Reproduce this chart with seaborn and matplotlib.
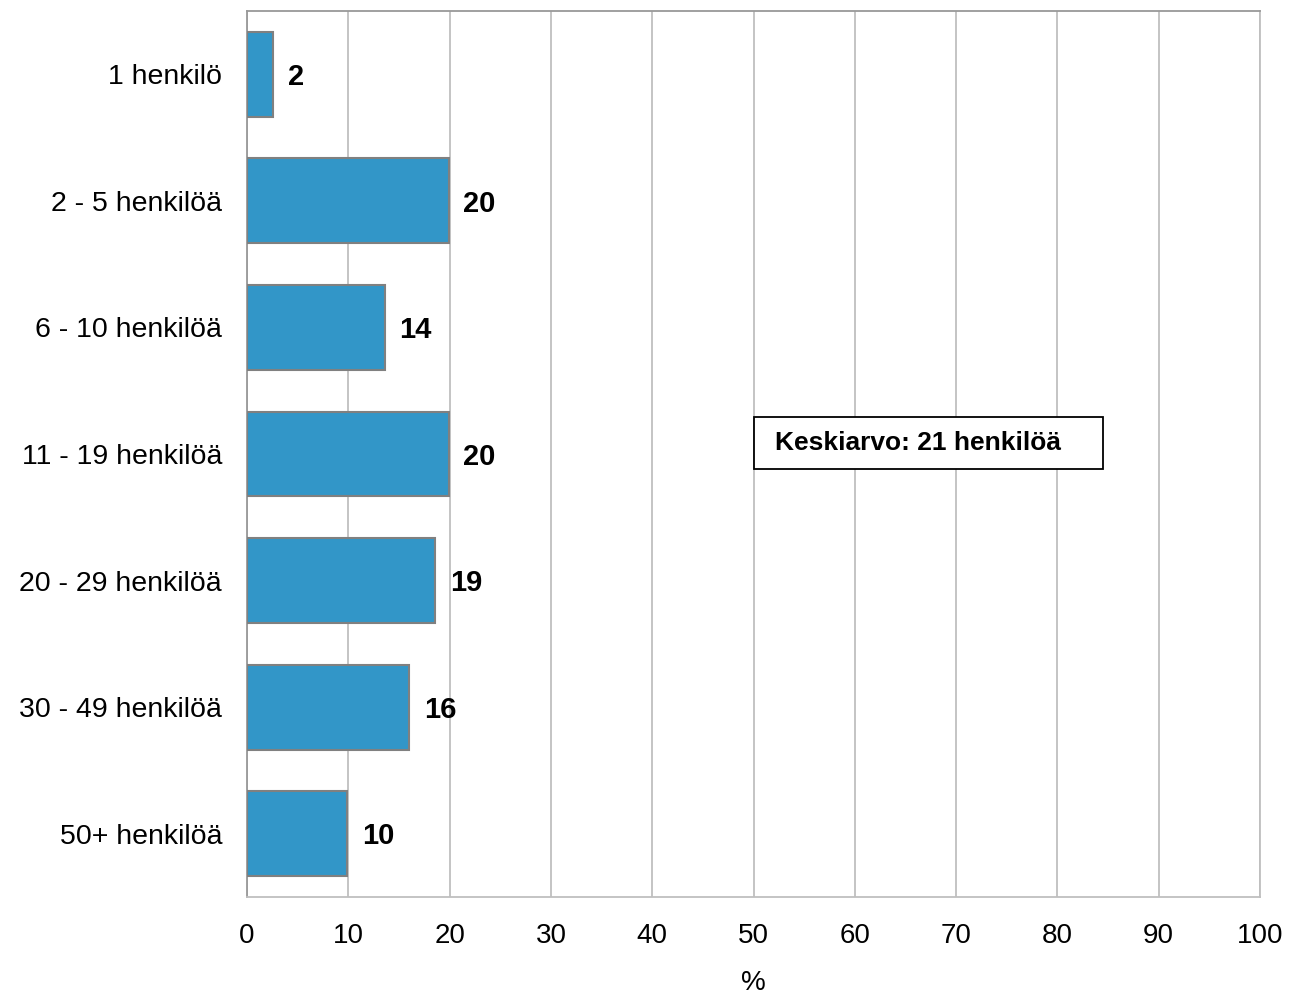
import matplotlib
matplotlib.use("Agg")
import matplotlib.pyplot as plt
import seaborn as sns
import pandas as pd
from matplotlib.patches import Rectangle

categories = ["1 henkilö", "2 - 5 henkilöä", "6 - 10 henkilöä", "11 - 19 henkilöä",
              "20 - 29 henkilöä", "30 - 49 henkilöä", "50+ henkilöä"]
values = [2.6, 19.9, 13.6, 19.9, 18.6, 16.0, 9.9]
labels = ["2", "20", "14", "20", "19", "16", "10"]
xticks = [0, 10, 20, 30, 40, 50, 60, 70, 80, 90, 100]
note = "Keskiarvo: 21 henkilöä"

sns.set_theme(style="white")
plt.rcParams['font.family'] = ['Liberation Sans', 'DejaVu Sans']
plt.rcParams['text.color'] = 'black'
plt.rcParams['xtick.color'] = 'black'
plt.rcParams['ytick.color'] = 'black'
plt.rcParams['axes.labelcolor'] = 'black'

df = pd.DataFrame({"cat": categories, "val": values})

fig = plt.figure(figsize=(12.94, 9.96), dpi=100)
ax = fig.add_axes([247/1294, 1-897/996, (1260-247)/1294, (897-11)/996])

sns.barplot(data=df, x="val", y="cat", ax=ax, color="#3296C8", saturation=1,
            width=0.67, edgecolor="#808080", linewidth=1.5, zorder=3)

ax.set_xlim(0, 100)
ax.set_xticks(xticks)
ax.set_xticklabels([str(t) for t in xticks], fontsize=20)
ax.tick_params(axis='x', length=0, pad=19, colors='black')
ax.tick_params(axis='y', length=0, pad=18, labelsize=20.5, colors='black')
ax.grid(axis='x', color="#BFBFBF", linewidth=1.3, zorder=0)
ax.grid(axis='y', visible=False)
ax.set_axisbelow(True)
for s in ["right", "bottom"]:
    ax.spines[s].set_color("#BFBFBF")
    ax.spines[s].set_linewidth(1.3)
for s in ["left", "top"]:
    ax.spines[s].set_color("#999999")
    ax.spines[s].set_linewidth(1.3)

ax.set_xlabel("%", fontsize=20, labelpad=15, color='black')
ax.set_ylabel("")

for i, (v, l) in enumerate(zip(values, labels)):
    ax.annotate(l, xy=(v, i), xytext=(10.5, -2), textcoords="offset points",
                ha="left", va="center", fontsize=21, fontweight="bold", color="black")

ax.add_patch(Rectangle(((754-247)/1013, (897-469)/886), (1103-754)/1013, (469-417)/886,
                       transform=ax.transAxes, fill=True, fc="white", ec="black", lw=1.3, zorder=4))
ax.text((775-247)/1013, (897-443.5)/886, note, transform=ax.transAxes,
        fontsize=19, fontweight="bold", va="center", ha="left", color="black", zorder=5)

fig.savefig("out.png", dpi=100)
